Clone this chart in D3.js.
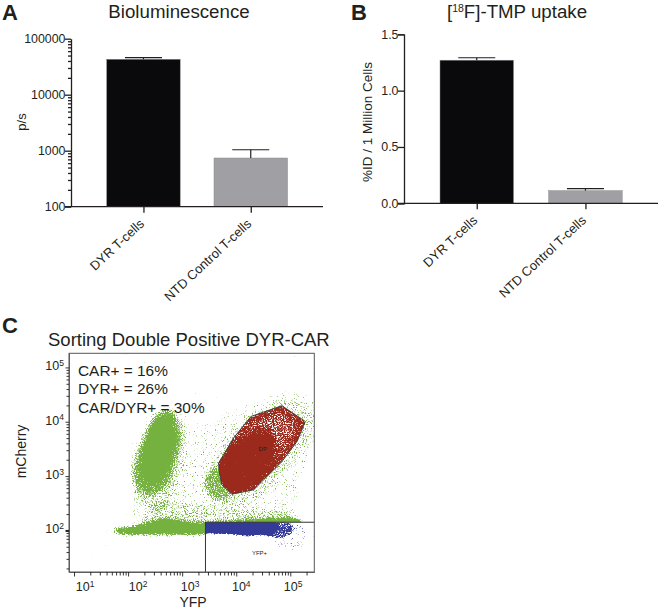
<!DOCTYPE html>
<html><head><meta charset="utf-8">
<script src="https://cdn.jsdelivr.net/npm/d3@7/dist/d3.min.js"></script>
<style>
html,body{margin:0;padding:0;background:#fff}
svg{display:block}
text{font-family:"Liberation Sans",Arial,sans-serif;fill:#231f20}
</style></head><body>
<svg id="c" width="660" height="611"></svg>
<script>
// ---- Panel A and B bars
const categories = ["DYR T-cells", "NTD Control T-cells"];
const biolumValues = [42900, 740];
const biolumErrors = [45900, 1040];
const biolumTicks = [100, 1000, 10000, 100000];
const uptakeValues = [1.27, 0.112];
const uptakeErrors = [1.292, 0.13];
const uptakeTicks = [0, 0.5, 1.0, 1.5];
const barColors = ["#0a0a0c", "#a0a0a4"];

// ---- Panel C: regions, as [log10 YFP, log10 mCherry]
const gateDP = [[3.673,3.239],[3.95,3.70],[4.272,4.098],[4.846,4.295],[5.278,4.005],[5.124,3.637],[4.846,3.268],[4.32,2.747],[3.92,2.667],[3.735,2.839],[3.69,3.054]];
const gateYFP = {yfp: 3.431, mcherry: 2.151};
const greenSparse = [[2.07,2.13],[2.22,3.115],[2.41,3.91],[2.72,4.28],[3.33,3.975],[3.95,4.22],[4.94,4.59],[5.43,4.41],[5.45,3.48],[5.19,2.87],[5.0,2.22]];
const greenGateHalo = [[3.46,2.99],[3.64,3.42],[4.07,3.98],[4.88,4.41],[5.40,4.22],[5.40,3.73],[4.94,3.115],[4.38,2.56],[3.89,2.44],[3.52,2.56]];
const greenKnot = [[3.40,2.93],[3.64,3.18],[3.89,2.62],[3.58,2.59]];
const greenTail = [[2.72,4.28],[2.99,3.975],[3.02,3.30],[2.84,2.62],[2.53,2.32],[2.16,2.56],[2.01,3.115],[2.22,3.79],[2.47,4.22]];
const greenBody = [[2.78,4.22],[2.96,3.78],[2.88,3.30],[2.70,2.82],[2.36,2.66],[2.10,2.88],[2.08,3.18],[2.28,3.74],[2.50,4.10]];
const greenCore = [[2.70,4.08],[2.84,3.72],[2.76,3.30],[2.58,2.98],[2.34,2.96],[2.26,3.24],[2.40,3.70],[2.54,4.00]];
const greenBandScatter = [[2.22,2.13],[2.59,2.50],[3.46,2.46],[4.44,2.40],[5.19,2.30],[5.19,2.19]];
const greenBand = [[1.79,2.0],[2.22,2.05],[2.65,2.16],[3.09,2.11],[3.43,2.09],[3.95,2.12],[4.81,2.18],[5.19,2.16],[5.19,2.13],[3.43,1.97],[2.65,1.96],[1.79,1.98]];
const greenFaint = [[1.54,2.03],[1.79,2.04],[1.79,1.98],[1.54,1.98]];
const blueCore = [[3.43,2.15],[4.60,2.15],[4.76,2.08],[4.66,1.95],[4.2,1.93],[3.95,1.96],[3.43,1.98]];
const blueMid = [[4.5,2.15],[5.0,2.13],[5.05,2.0],[4.85,1.87],[4.55,1.9]];
const blueHalo = [[4.88,2.13],[5.28,2.07],[5.22,1.67],[4.94,1.61],[4.69,1.825]];
const redCore = [[3.72,3.05],[3.98,3.55],[4.34,3.82],[4.62,3.80],[4.72,3.45],[4.42,2.95],[3.95,2.72],[3.77,2.81]];
const flowExponents = [1, 2, 3, 4, 5];
const xLabelAnchors = [16, 153, 1400, 12400, 113000];
const statLines = ["CAR+ = 16%", "DYR+ = 26%", "CAR/DYR+ = 30%"];

const ink = "#231f20";
const svg = d3.select("#c");
const logMinor = (lo, hi) => { const r=[]; for(let d=lo;d<hi;d*=10) for(let k=1;k<10;k++){const v=d*k; if(v<=hi) r.push(v);} r.push(hi); return [...new Set(r)]; };

function styleAxis(g, w){
  g.selectAll(".domain").attr("stroke",ink).attr("stroke-width",w);
  g.selectAll(".tick line").attr("stroke",ink).attr("stroke-width",w);
}
function bars(opts){
  const g = svg.append("g");
  const {y, xL, xR, barX, barW, values, errors} = opts;
  const xc = d3.scalePoint().domain(categories).range(barX.map(b=>b+barW/2));
  const bottom = y.range()[0];
  g.selectAll("rect.bar").data(categories).join("rect")
    .attr("x",c=>xc(c)-barW/2).attr("width",barW)
    .attr("y",(c,i)=>y(values[i])).attr("height",(c,i)=>bottom-y(values[i]))
    .attr("fill",(c,i)=>barColors[i]).attr("stroke","#88888b").attr("stroke-width",.5);
  g.selectAll("line.err").data(categories).join("line")
    .attr("x1",c=>xc(c)).attr("x2",c=>xc(c))
    .attr("y1",(c,i)=>y(values[i])).attr("y2",(c,i)=>y(errors[i]))
    .attr("stroke",ink).attr("stroke-width",1.2);
  g.selectAll("line.cap").data(categories).join("line")
    .attr("x1",c=>xc(c)-18.5).attr("x2",c=>xc(c)+18.5)
    .attr("y1",(c,i)=>y(errors[i])).attr("y2",(c,i)=>y(errors[i]))
    .attr("stroke",ink).attr("stroke-width",1.2);
  const ax = g.append("g").attr("transform",`translate(0,${bottom})`)
    .call(d3.axisBottom(xc).tickSizeOuter(0).tickSize(6));
  ax.select(".domain").attr("d",`M${xL},0H${xR}`);
  styleAxis(ax,1.3);
  ax.selectAll(".tick text").attr("font-size",13).attr("text-anchor","end")
    .attr("x",0).attr("y",0).attr("dy",0)
    .attr("transform","translate(1,18) rotate(-43)");
  return g;
}

// ---- Panel A
const yA = d3.scaleLog().domain([100,100000]).range([206.7,38.7]);
bars({y:yA,xL:65,xR:323,barX:[106.7,214],barW:73.5,values:biolumValues,errors:biolumErrors});
const axA = svg.append("g").attr("transform","translate(71,0)")
  .call(d3.axisLeft(yA).tickValues(logMinor(100,100000)).tickSizeOuter(0)
    .tickFormat(v=>biolumTicks.includes(v)?String(v):""));
styleAxis(axA,1.3);
axA.selectAll(".tick").each(function(v){
  const maj=biolumTicks.includes(v);
  d3.select(this).select("line").attr("x2",maj?-6:-3);
  d3.select(this).select("text").attr("x",-5.5).attr("font-size",12.4);
});
svg.append("text").attr("transform","translate(26,122) rotate(-90)").attr("text-anchor","middle").attr("font-size",13).text("p/s");
svg.append("text").attr("x",179).attr("y",18).attr("text-anchor","middle").attr("font-size",18.7).text("Bioluminescence");
svg.append("text").attr("x",2).attr("y",20).attr("font-size",22).attr("font-weight",700).attr("fill","#000").text("A");

// ---- Panel B
const yB = d3.scaleLinear().domain([0,1.5]).range([203.3,34.3]);
bars({y:yB,xL:398,xR:658,barX:[440,548.7],barW:73.5,values:uptakeValues,errors:uptakeErrors});
const axB = svg.append("g").attr("transform","translate(404,0)")
  .call(d3.axisLeft(yB).tickValues(uptakeTicks).tickSizeOuter(0).tickSize(6).tickFormat(d3.format(".1f")));
styleAxis(axB,1.3);
axB.selectAll(".tick text").attr("x",-5.5).attr("font-size",12.4);
svg.append("text").attr("transform","translate(372,122) rotate(-90)").attr("text-anchor","middle").attr("font-size",13.5).text("%ID / 1 Million Cells");
const tB = svg.append("text").attr("x",517).attr("y",18).attr("text-anchor","middle").attr("font-size",18.7);
tB.append("tspan").text("[");
tB.append("tspan").attr("dy",-6).attr("font-size",10.5).text("18");
tB.append("tspan").attr("dy",6).text("F]-TMP uptake");
svg.append("text").attr("x",351).attr("y",20).attr("font-size",22).attr("font-weight",700).attr("fill","#000").text("B");

// ---- Panel C
const frame = {l:69,r:314.3,t:353.3,b:572};
const xC = d3.scaleLog().domain([10**0.907,10**5.444]).range([frame.l,frame.r]);
const yC = d3.scaleLog().domain([10**1.235,10**5.26]).range([frame.b,frame.t]);
const px = p=>[xC(10**p[0]),yC(10**p[1])];
const blob = d3.line().curve(d3.curveCatmullRomClosed.alpha(.5));
const poly = d3.line().curve(d3.curveLinearClosed);
const defs = svg.append("defs");

function speckle(id,color,blur,seed,freq){
  const f = defs.append("filter").attr("id",id).attr("filterUnits","userSpaceOnUse")
    .attr("x",frame.l).attr("y",frame.t).attr("width",frame.r-frame.l).attr("height",frame.b-frame.t)
    .attr("color-interpolation-filters","sRGB");
  f.append("feGaussianBlur").attr("in","SourceAlpha").attr("stdDeviation",blur).attr("result","d");
  f.append("feTurbulence").attr("type","fractalNoise").attr("baseFrequency",freq).attr("numOctaves",2).attr("seed",seed).attr("result","n");
  f.append("feColorMatrix").attr("in","n").attr("type","matrix").attr("values","0 0 0 0 0  0 0 0 0 0  0 0 0 0 0  1 0 0 0 0").attr("result","na");
  f.append("feComposite").attr("in","d").attr("in2","na").attr("operator","arithmetic")
    .attr("k1",0).attr("k2",1).attr("k3",1).attr("k4",-0.84).attr("result","s");
  const ct = f.append("feComponentTransfer").attr("in","s").attr("result","m");
  ct.append("feFuncA").attr("type","linear").attr("slope",6).attr("intercept",0);
  f.append("feFlood").attr("flood-color",color).attr("result","col");
  f.append("feComposite").attr("in","col").attr("in2","m").attr("operator","in");
}
speckle("spGreen","#74b13e",2.6,4,0.9);
speckle("spBlue","#333a97",1.2,11,0.9);
speckle("spRed","#9b2a1d",3,23,0.9);

defs.append("clipPath").attr("id","clipDP").append("path").attr("d",poly(gateDP.map(px)));
defs.append("clipPath").attr("id","clipYFP").append("rect")
  .attr("x",xC(10**gateYFP.yfp)).attr("y",yC(10**gateYFP.mcherry))
  .attr("width",frame.r-xC(10**gateYFP.yfp)).attr("height",frame.b-yC(10**gateYFP.mcherry));
defs.append("clipPath").attr("id","clipFrame").append("rect")
  .attr("x",frame.l).attr("y",frame.t).attr("width",frame.r-frame.l).attr("height",frame.b-frame.t);

const plot = svg.append("g").attr("clip-path","url(#clipFrame)");
const greens = plot.append("g").attr("filter","url(#spGreen)");
[[greenSparse,.2],[greenBandScatter,.16],[greenGateHalo,.14],[greenKnot,.3],[greenTail,.16],[greenBody,.42],[greenCore,.8],[greenFaint,.3]]
  .forEach(([pts,a])=>greens.append("path").attr("d",blob(pts.map(px))).attr("fill","#000").attr("fill-opacity",a));
greens.append("path").attr("d",blob(greenBand.map(px))).attr("fill","#000").attr("stroke","#000").attr("stroke-width",3);

// white out gates, then their populations
plot.append("path").attr("d",poly(gateDP.map(px))).attr("fill","#fff");
plot.append("rect").attr("x",xC(10**gateYFP.yfp)).attr("y",yC(10**gateYFP.mcherry))
  .attr("width",frame.r-xC(10**gateYFP.yfp)).attr("height",frame.b-yC(10**gateYFP.mcherry)).attr("fill","#fff");

const redClip = plot.append("g").attr("clip-path","url(#clipDP)");
const reds = redClip.append("g").attr("filter","url(#spRed)");
reds.append("path").attr("d",poly(gateDP.map(px))).attr("fill","#000").attr("fill-opacity",.48)
  .attr("stroke","#000").attr("stroke-opacity",.48).attr("stroke-width",8);
reds.append("path").attr("d",blob(redCore.map(px))).attr("fill","#000").attr("fill-opacity",.6);

const blueClip = plot.append("g").attr("clip-path","url(#clipYFP)");
const blues = blueClip.append("g").attr("filter","url(#spBlue)");
blues.append("path").attr("d",blob(blueHalo.map(px))).attr("fill","#000").attr("fill-opacity",.2);
blues.append("path").attr("d",blob(blueMid.map(px))).attr("fill","#000").attr("fill-opacity",.42);
blues.append("path").attr("d",poly(blueCore.map(px))).attr("fill","#000").attr("stroke","#000").attr("stroke-width",3);

// gates and frame
plot.append("path").attr("d",poly(gateDP.map(px))).attr("fill","none").attr("stroke","#333").attr("stroke-width",.9);
plot.append("rect").attr("x",xC(10**gateYFP.yfp)).attr("y",yC(10**gateYFP.mcherry))
  .attr("width",frame.r-xC(10**gateYFP.yfp)+2).attr("height",frame.b-yC(10**gateYFP.mcherry)+2)
  .attr("fill","none").attr("stroke","#333").attr("stroke-width",1);
svg.append("rect").attr("x",frame.l).attr("y",frame.t).attr("width",frame.r-frame.l).attr("height",frame.b-frame.t)
  .attr("fill","none").attr("stroke","#555").attr("stroke-width",1);

// axes
const decades = flowExponents.map(e=>10**e);
const xTicks = [...logMinor(10,100000),200000].filter(v=>xC(v)<=frame.r);
const axCx = svg.append("g").attr("transform",`translate(0,${frame.b})`)
  .call(d3.axisBottom(xC).tickValues(xTicks).tickSizeOuter(0).tickFormat(""));
styleAxis(axCx,.9);
axCx.select(".domain").attr("stroke","#555");
axCx.selectAll(".tick line").attr("y2",v=>decades.includes(v)?4.5:3.5);
const yTicks = [20,30,40,50,60,70,80,90,...logMinor(100,100000),200000].filter(v=>yC(v)>=frame.t);
const axCy = svg.append("g").attr("transform",`translate(${frame.l},0)`)
  .call(d3.axisLeft(yC).tickValues(yTicks).tickSizeOuter(0).tickFormat(""));
styleAxis(axCy,.9);
axCy.select(".domain").attr("stroke","#555");
axCy.selectAll(".tick line").attr("x2",v=>decades.includes(v)?-3.5:-2.5).attr("stroke-width",v=>v===100?2:.9);

function power(sel,e){
  sel.append("tspan").text("10");
  sel.append("tspan").attr("dy",-4.5).attr("font-size",8.5).text(e);
}
xLabelAnchors.forEach((v,i)=>{
  const t=svg.append("text").attr("x",xC(v)).attr("y",591).attr("text-anchor","middle").attr("font-size",12.5);
  power(t,flowExponents[i]);
});
flowExponents.slice(1).forEach(e=>{
  const t=svg.append("text").attr("x",64).attr("y",yC(10**e)+3).attr("text-anchor","end").attr("font-size",12.5);
  power(t,e);
});

statLines.forEach((s,i)=>svg.append("text").attr("x",78).attr("y",375.5+i*18.7).attr("font-size",15.4).text(s));
svg.append("text").attr("x",xC(10**4.49)).attr("y",yC(10**3.49)+2).attr("text-anchor","middle").attr("font-size",6).text("DP");
svg.append("text").attr("x",xC(10**4.43)).attr("y",555).attr("text-anchor","middle").attr("font-size",6).text("YFP+");
svg.append("text").attr("x",193).attr("y",607).attr("text-anchor","middle").attr("font-size",14).text("YFP");
svg.append("text").attr("transform","translate(26,451.5) rotate(-90)").attr("text-anchor","middle").attr("font-size",14).text("mCherry");
svg.append("text").attr("x",48).attr("y",345.5).attr("font-size",18.5).text("Sorting Double Positive DYR-CAR");
svg.append("text").attr("x",2).attr("y",333).attr("font-size",22).attr("font-weight",700).attr("fill","#000").text("C");
</script></body></html>
